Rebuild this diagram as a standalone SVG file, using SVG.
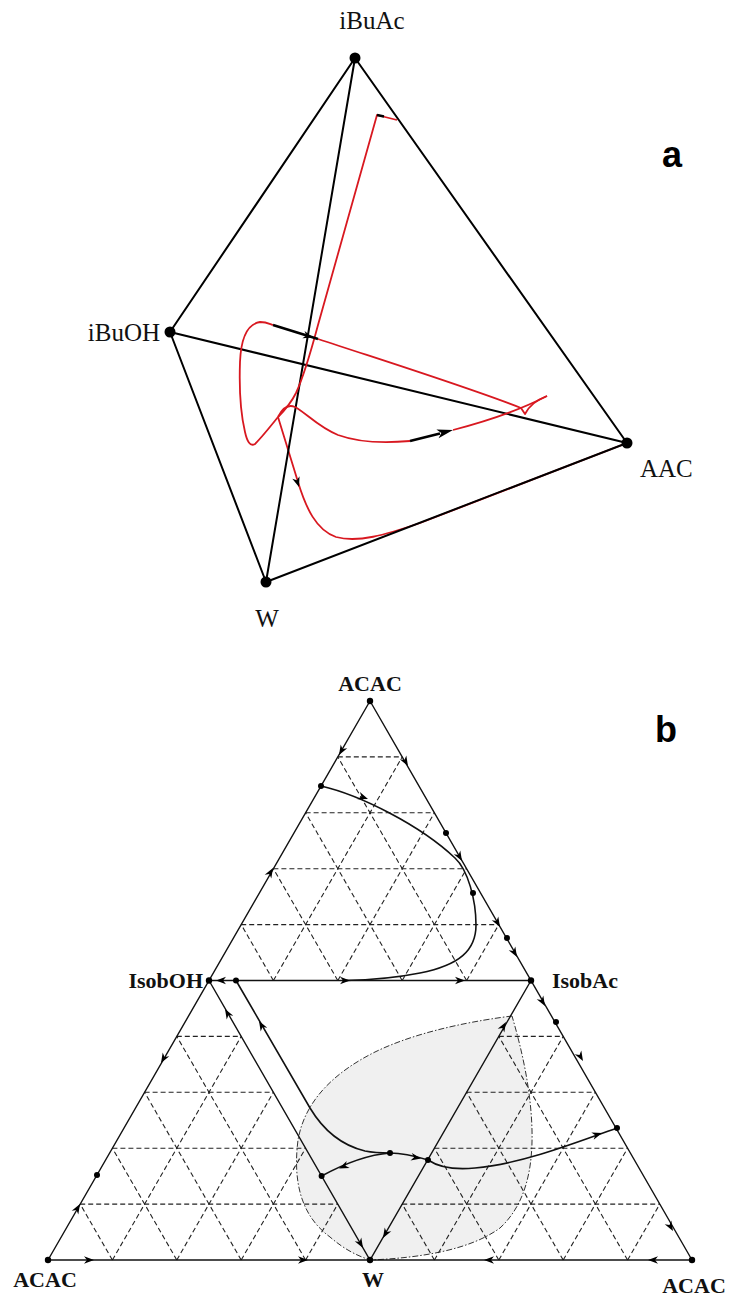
<svg xmlns="http://www.w3.org/2000/svg" width="731" height="1297" viewBox="0 0 731 1297">
<style>
.edgeA{stroke:#000;stroke-width:2;fill:none;stroke-linecap:round}
.red{stroke:#d81820;stroke-width:1.8;fill:none;stroke-linejoin:round}
.blk{stroke:#000;stroke-width:2.6;fill:none}
.lblA{font-family:"Liberation Serif","Times New Roman",serif;font-size:25px;fill:#111}
.lblB{font-family:"Liberation Serif","Times New Roman",serif;font-size:22px;font-weight:bold;fill:#111}
.tag{font-family:"Liberation Sans",Arial,sans-serif;font-size:36px;font-weight:bold;fill:#000}
.edgeB{stroke:#111;stroke-width:1.4;fill:none}
.dash{stroke:#222;stroke-width:1.1;stroke-dasharray:5 3;fill:none}
.curve{stroke:#111;stroke-width:1.6;fill:none}
.env{fill:#f0f0f0;stroke:#333;stroke-width:1;stroke-dasharray:6 2 1.5 2}
</style>
<defs>
<path id="ah" d="M0,0 L-10,-3.8 L-7,0 L-10,3.8 Z" fill="#000"/>
<path id="ahA" d="M0,0 L-16,-4.5 L-12,0 L-16,4.5 Z" fill="#000"/>
<g id="grid" class="dash">
<path d="M337.8,756.9H402.2M305.6,812.8H434.4M273.4,868.7H466.6M241.2,924.6H498.8"/>
<path d="M273.4,980.5L402.2,756.9M337.8,980.5L434.4,812.8M402.2,980.5L466.6,868.7M466.6,980.5L498.8,924.6"/>
<path d="M466.6,980.5L337.8,756.9M402.2,980.5L305.6,812.8M337.8,980.5L273.4,868.7M273.4,980.5L241.2,924.6"/>
</g>
</defs>

<!-- ===== Part a ===== -->
<g id="part-a">
<g id="a-connectors">
<path class="red" d="M278,417 C285,440 292,462 298,482 C306,508 316,530 336,537 C358,543 385,535 420,523 L627,443"/>
<line class="edgeA" x1="355" y1="58" x2="170" y2="332"/>
<line class="edgeA" x1="355" y1="58" x2="627" y2="443"/>
<line class="edgeA" x1="355" y1="58" x2="266" y2="582"/>
<line class="edgeA" x1="170" y1="332" x2="627" y2="443"/>
<line class="edgeA" x1="170" y1="332" x2="266" y2="582"/>
<line class="edgeA" x1="266" y1="582" x2="627" y2="443" stroke-width="1.4"/>
<path class="red" d="M397,120 L377,115 L318,325 C310,355 302,380 296,393 C291,403 285,410 278,417"/>
<path class="red" d="M278,417 C282,409 288,404 295,407 C305,412 318,427 338,435 C360,443 388,443 410,441"/>
<path class="red" d="M453,430 C480,423 518,411 547,396"/>
<path class="red" d="M278,417 C270,427 262,437 255,444 C250,447 247,441 245,432 C241,415 239,390 240,362 C241,338 247,324 260,322 C266,322 270,324 273,325"/>
<path class="red" d="M318,339 C400,366 470,388 521,408 L525,414 Q531,402 547,396"/>
<path class="blk" d="M410,441 L440,433.5"/>
<use href="#ahA" transform="translate(453,430) rotate(-14)"/>
<path class="blk" d="M273,325 L318,339"/>
<use href="#ah" transform="translate(313,337.5) rotate(17)"/>
<path class="blk" stroke-width="2" d="M377,115 L384,116.5"/>
<use href="#ah" transform="translate(299,487) rotate(72)"/>
</g>
<g id="node-iBuAc"><circle cx="355" cy="58" r="5.5"/><text class="lblA" x="372" y="29" text-anchor="middle">iBuAc</text></g>
<g id="node-iBuOH"><circle cx="170" cy="332" r="5.5"/><text class="lblA" x="160" y="341" text-anchor="end">iBuOH</text></g>
<g id="node-AAC"><circle cx="627" cy="443" r="5.5"/><text class="lblA" x="640" y="477">AAC</text></g>
<g id="node-W-a"><circle cx="266" cy="582" r="5.5"/><text class="lblA" x="267" y="627" text-anchor="middle">W</text></g>
<text class="tag" x="662" y="167">a</text>
</g>

<!-- ===== Part b ===== -->
<g id="part-b">
<path id="envelope" class="env" d="M512,1016 C480,1020 420,1030 375,1052 C335,1072 305,1100 298,1140 C293,1180 300,1215 330,1237 C345,1250 358,1256 370,1260 C420,1258 470,1250 500,1228 C525,1205 533,1170 532,1130 C531,1090 522,1050 512,1016 Z"/>
<g id="grids">
<use href="#grid"/>
<use href="#grid" transform="translate(-161,279.5)"/>
<use href="#grid" transform="translate(161,279.5)"/>
</g>
<g id="b-connectors">
<path class="edgeB" d="M370,701 L48,1260 M370,701 L692,1260 M209,980.5 H531 M209,980.5 L370,1260 L531,980.5"/>
<path class="edgeB" stroke-width="1.8" stroke="#333" d="M48,1260 H692"/>
<path class="curve" d="M321,786 C360,795 420,825 455,858 C468,870 476,900 476,925 C476,950 460,965 420,973 C395,978 370,980 345,980.5"/>
<path class="curve" d="M236,980.5 L310,1108 C322,1128 340,1145 365,1151 C375,1153 383,1153 390,1153 C403,1153 415,1156 428,1160"/>
<path class="curve" d="M428,1160 C440,1168 455,1170 475,1168 C520,1164 570,1145 617,1128"/>
<path class="curve" d="M321.6,1176 C340,1166 365,1155 390,1153"/>
<use href="#ah" transform="translate(339,755) rotate(120)"/>
<use href="#ah" transform="translate(273,868) rotate(-60)"/>
<use href="#ah" transform="translate(408,766) rotate(60)"/>
<use href="#ah" transform="translate(462,861) rotate(60)"/>
<use href="#ah" transform="translate(500,927) rotate(60)"/>
<use href="#ah" transform="translate(517,957) rotate(60)"/>
<use href="#ah" transform="translate(368,799) rotate(20)"/>
<use href="#ah" transform="translate(216,980.5) rotate(180)"/>
<use href="#ah" transform="translate(350,980.5) rotate(0)"/>
<use href="#ah" transform="translate(465,980.5) rotate(0)"/>
<use href="#ah" transform="translate(161,1063) rotate(120)"/>
<use href="#ah" transform="translate(80,1204) rotate(-60)"/>
<use href="#ah" transform="translate(225,1009) rotate(-120)"/>
<use href="#ah" transform="translate(259,1021) rotate(-120)"/>
<use href="#ah" transform="translate(363,1248) rotate(60)"/>
<use href="#ah" transform="translate(383,1238) rotate(120)"/>
<use href="#ah" transform="translate(506,1022) rotate(-60)"/>
<use href="#ah" transform="translate(339,1168.5) rotate(157)"/>
<use href="#ah" transform="translate(421,1158.5) rotate(10)"/>
<use href="#ah" transform="translate(602,1133) rotate(-18)"/>
<use href="#ah" transform="translate(545,1006) rotate(60)"/>
<use href="#ah" transform="translate(583,1061) rotate(60)"/>
<use href="#ah" transform="translate(673,1231) rotate(60)"/>
<use href="#ah" transform="translate(94,1260) rotate(0)"/>
<use href="#ah" transform="translate(308,1260) rotate(0)"/>
<use href="#ah" transform="translate(484,1260) rotate(180)"/>
<use href="#ah" transform="translate(648,1260) rotate(180)"/>
</g>
<g id="b-points">
<circle cx="321" cy="786" r="3"/>
<circle cx="446" cy="833" r="3"/>
<circle cx="473" cy="893" r="3"/>
<circle cx="507" cy="938" r="3"/>
<circle cx="236" cy="980.5" r="3"/>
<circle cx="97" cy="1175" r="3"/>
<circle cx="321.6" cy="1176" r="3"/>
<circle cx="390" cy="1153" r="3"/>
<circle cx="428" cy="1160" r="3"/>
<circle cx="556" cy="1022" r="3"/>
<circle cx="617" cy="1128" r="3"/>
</g>
<g id="node-ACAC-top"><circle cx="370" cy="701" r="3.2"/><text class="lblB" x="370" y="691" text-anchor="middle">ACAC</text></g>
<g id="node-IsobOH"><circle cx="209" cy="980.5" r="3.2"/><text class="lblB" x="203" y="988" text-anchor="end">IsobOH</text></g>
<g id="node-IsobAc"><circle cx="531" cy="980.5" r="3.2"/><text class="lblB" x="552" y="988">IsobAc</text></g>
<g id="node-ACAC-left"><circle cx="48" cy="1260" r="3.2"/><text class="lblB" x="45" y="1287" text-anchor="middle">ACAC</text></g>
<g id="node-W-b"><circle cx="370" cy="1260" r="3.2"/><text class="lblB" x="373" y="1287" text-anchor="middle">W</text></g>
<g id="node-ACAC-right"><circle cx="692" cy="1260" r="3.2"/><text class="lblB" x="694" y="1293" text-anchor="middle">ACAC</text></g>
<text class="tag" x="655" y="742">b</text>
</g>
</svg>
